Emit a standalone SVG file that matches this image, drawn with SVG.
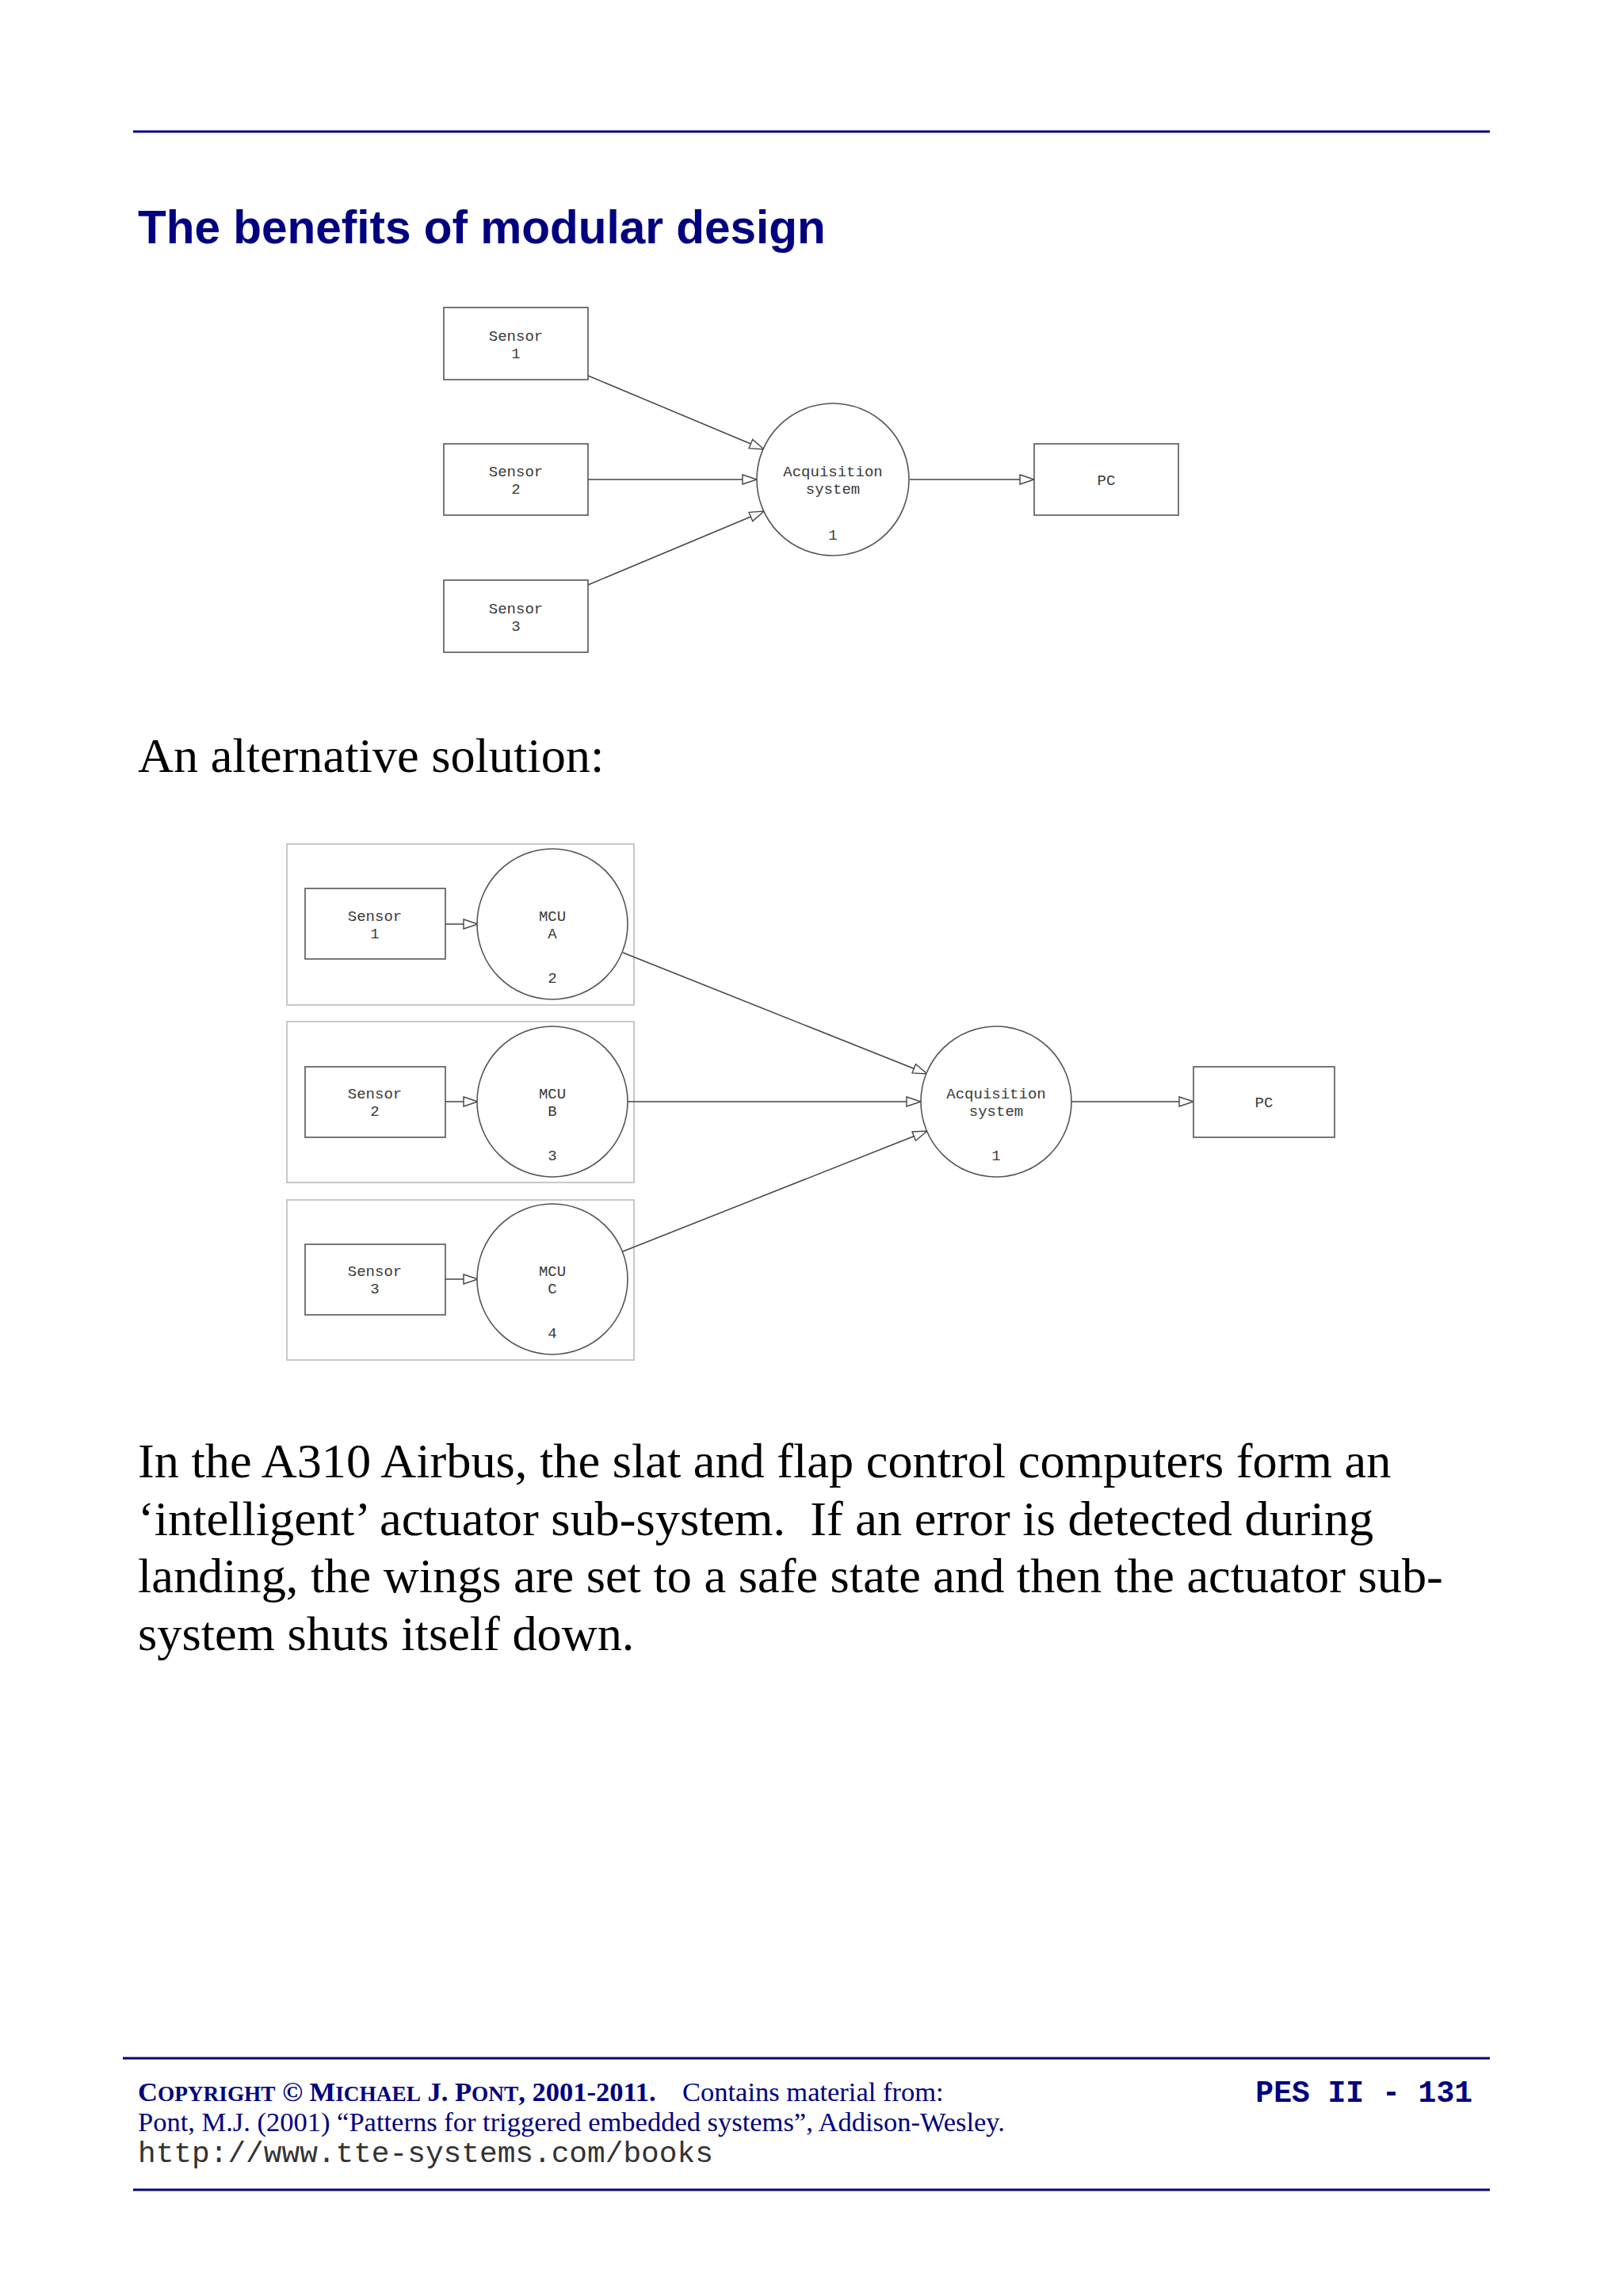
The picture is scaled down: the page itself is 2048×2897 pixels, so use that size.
<svg xmlns="http://www.w3.org/2000/svg" width="2048" height="2897" viewBox="0 0 2048 2897">
<style>
.rule{stroke:#000080;stroke-width:3;fill:none}
.box{fill:#ffffff;stroke:#555555;stroke-width:1.6}
.grp{fill:none;stroke:#bbbbbb;stroke-width:1.6}
.lbl{font-family:"Liberation Mono","Courier New",monospace;font-size:19px;fill:#3a3a3a;text-anchor:middle}
.conn{stroke:#444444;stroke-width:1.5;fill:none;marker-end:url(#arr)}
.body{font-family:"Liberation Serif","Times New Roman",serif;font-size:62.3px;fill:#000000;white-space:pre}
.foot{font-family:"Liberation Serif","Times New Roman",serif;font-size:34.5px;fill:#000080}
.sc{font-size:27.3px}
</style>
<defs>
<marker id="arr" markerUnits="userSpaceOnUse" viewBox="-1 -1 20 14" refX="18" refY="6" markerWidth="20" markerHeight="14" orient="auto" overflow="visible">
<path d="M0,0 L18,6 L0,12 Z" fill="#ffffff" stroke="#444444" stroke-width="1.4"/>
</marker>
</defs>
<rect width="2048" height="2897" fill="#ffffff"/>

<line class="rule" x1="168" y1="166" x2="1880" y2="166"/>
<text x="174" y="307" font-family="Liberation Sans, Arial, sans-serif" font-weight="bold" font-size="58.5" fill="#000080">The benefits of modular design</text>

<!-- Diagram 1 -->
<g id="connectors1">
<line class="conn" x1="742" y1="474" x2="964" y2="567"/>
<line class="conn" x1="742" y1="605" x2="955" y2="605"/>
<line class="conn" x1="742" y1="738" x2="964" y2="645"/>
<line class="conn" x1="1148" y1="605" x2="1305" y2="605"/>
</g>
<g id="d1-sensor1"><rect class="box" x="560" y="388" width="182" height="91"/><text class="lbl" x="651" y="430">Sensor</text><text class="lbl" x="651" y="452">1</text></g>
<g id="d1-sensor2"><rect class="box" x="560" y="560" width="182" height="90"/><text class="lbl" x="651" y="601">Sensor</text><text class="lbl" x="651" y="623">2</text></g>
<g id="d1-sensor3"><rect class="box" x="560" y="732" width="182" height="91"/><text class="lbl" x="651" y="774">Sensor</text><text class="lbl" x="651" y="796">3</text></g>
<g id="d1-acq"><circle class="box" cx="1051" cy="605" r="96"/><text class="lbl" x="1051" y="601">Acquisition</text><text class="lbl" x="1051" y="623">system</text><text class="lbl" x="1051" y="681">1</text></g>
<g id="d1-pc"><rect class="box" x="1305" y="560" width="182" height="90"/><text class="lbl" x="1396" y="612">PC</text></g>

<text class="body" x="174" y="974">An alternative solution:</text>

<!-- Diagram 2 -->
<g id="grpA"><rect class="grp" x="362" y="1065" width="438" height="203"/></g>
<g id="grpB"><rect class="grp" x="362" y="1289" width="438" height="203"/></g>
<g id="grpC"><rect class="grp" x="362" y="1514" width="438" height="202"/></g>
<g id="connectors2">
<line class="conn" x1="562" y1="1166" x2="603" y2="1166"/>
<line class="conn" x1="562" y1="1390" x2="603" y2="1390"/>
<line class="conn" x1="562" y1="1614" x2="603" y2="1614"/>
<line class="conn" x1="786" y1="1202" x2="1170" y2="1355"/>
<line class="conn" x1="792" y1="1390" x2="1162" y2="1390"/>
<line class="conn" x1="786" y1="1579" x2="1170" y2="1427"/>
<line class="conn" x1="1352" y1="1390" x2="1506" y2="1390"/>
</g>
<g id="d2-sensor1"><rect class="box" x="385" y="1121" width="177" height="89"/><text class="lbl" x="473" y="1162">Sensor</text><text class="lbl" x="473" y="1184">1</text></g>
<g id="d2-sensor2"><rect class="box" x="385" y="1346" width="177" height="89"/><text class="lbl" x="473" y="1386">Sensor</text><text class="lbl" x="473" y="1408">2</text></g>
<g id="d2-sensor3"><rect class="box" x="385" y="1570" width="177" height="89"/><text class="lbl" x="473" y="1610">Sensor</text><text class="lbl" x="473" y="1632">3</text></g>
<g id="d2-mcuA"><circle class="box" cx="697" cy="1166" r="95"/><text class="lbl" x="697" y="1162">MCU</text><text class="lbl" x="697" y="1184">A</text><text class="lbl" x="697" y="1240">2</text></g>
<g id="d2-mcuB"><circle class="box" cx="697" cy="1390" r="95"/><text class="lbl" x="697" y="1386">MCU</text><text class="lbl" x="697" y="1408">B</text><text class="lbl" x="697" y="1464">3</text></g>
<g id="d2-mcuC"><circle class="box" cx="697" cy="1614" r="95"/><text class="lbl" x="697" y="1610">MCU</text><text class="lbl" x="697" y="1632">C</text><text class="lbl" x="697" y="1688">4</text></g>
<g id="d2-acq"><circle class="box" cx="1257" cy="1390" r="95"/><text class="lbl" x="1257" y="1386">Acquisition</text><text class="lbl" x="1257" y="1408">system</text><text class="lbl" x="1257" y="1464">1</text></g>
<g id="d2-pc"><rect class="box" x="1506" y="1346" width="178" height="89"/><text class="lbl" x="1595" y="1397">PC</text></g>

<text class="body" x="174" y="1864">In the A310 Airbus, the slat and flap control computers form an</text>
<text class="body" x="174" y="1937">‘intelligent’ actuator sub-system.  If an error is detected during</text>
<text class="body" x="174" y="2009">landing, the wings are set to a safe state and then the actuator sub-</text>
<text class="body" x="174" y="2082">system shuts itself down.</text>

<line class="rule" x1="155" y1="2597" x2="1880" y2="2597"/>
<text class="foot" x="174" y="2651" font-weight="bold">C<tspan class="sc">OPYRIGHT</tspan> © M<tspan class="sc">ICHAEL</tspan> J. P<tspan class="sc">ONT</tspan>, 2001-2011.</text>
<text class="foot" x="861" y="2651">Contains material from:</text>
<text x="1858" y="2652" text-anchor="end" font-family="Liberation Mono, Courier New, monospace" font-weight="bold" font-size="38" fill="#000080">PES II - 131</text>
<text class="foot" x="174" y="2689">Pont, M.J. (2001) “Patterns for triggered embedded systems”, Addison-Wesley.</text>
<text x="174" y="2728" font-family="Liberation Mono, Courier New, monospace" font-size="37.8" fill="#333333">http://www.tte-systems.com/books</text>
<line class="rule" x1="168" y1="2763" x2="1880" y2="2763"/>
</svg>
